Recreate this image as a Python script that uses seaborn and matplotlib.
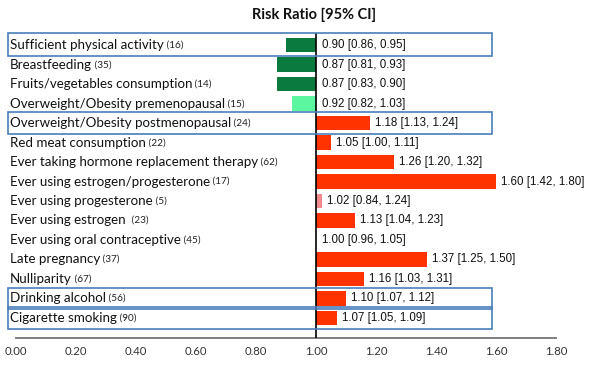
import numpy as np
import pandas as pd
import matplotlib
matplotlib.use("Agg")
import matplotlib.pyplot as plt
from matplotlib.patches import Rectangle
import seaborn as sns

# ---------------- data ----------------
factors = [
    "Sufficient physical activity",
    "Breastfeeding",
    "Fruits/vegetables consumption",
    "Overweight/Obesity premenopausal",
    "Overweight/Obesity postmenopausal",
    "Red meat consumption",
    "Ever taking hormone replacement therapy",
    "Ever using estrogen/progesterone",
    "Ever using progesterone",
    "Ever using estrogen ",
    "Ever using oral contraceptive",
    "Late pregnancy",
    "Nulliparity",
    "Drinking alcohol",
    "Cigarette smoking",
]
n_studies = [16, 35, 14, 15, 24, 22, 62, 17, 5, 23, 45, 37, 67, 56, 90]
risk_ratio = [0.90, 0.87, 0.87, 0.92, 1.18, 1.05, 1.26, 1.60, 1.02, 1.13, 1.00, 1.37, 1.16, 1.10, 1.07]
ci_low = [0.86, 0.81, 0.83, 0.82, 1.13, 1.00, 1.20, 1.42, 0.84, 1.04, 0.96, 1.25, 1.03, 1.07, 1.05]
ci_high = [0.95, 0.93, 0.90, 1.03, 1.24, 1.11, 1.32, 1.80, 1.24, 1.23, 1.05, 1.50, 1.31, 1.12, 1.09]
bar_colors = ["#0b7a3e", "#0b7a3e", "#0b7a3e", "#5cf5a0", "#ff3300", "#ff3300", "#ff3300",
              "#ff3300", "#f08a8c", "#ff3300", "#ff3300", "#ff3300", "#ff3300", "#ff3300", "#ff3300"]
boxed = ["Sufficient physical activity", "Overweight/Obesity postmenopausal",
         "Drinking alcohol", "Cigarette smoking"]
x_ticks = [0.0, 0.2, 0.4, 0.6, 0.8, 1.0, 1.2, 1.4, 1.6, 1.8]
title = "Risk Ratio [95% CI]"
reference = 1.0

# ---------------- style ----------------
sns.set_style("white")
plt.rcParams["font.family"] = ["Lato", "DejaVu Sans"]

df = pd.DataFrame({
    "factor": factors,
    "diff": np.array(risk_ratio) - reference,
})

fig = plt.figure(figsize=(5.89, 3.67), dpi=100)
ax = fig.add_axes([16 / 589, 29 / 367, 540 / 589, 305 / 367])

sns.barplot(data=df, y="factor", x="diff", hue="factor", palette=bar_colors,
            saturation=1, errorbar=None, width=0.74, legend=False, orient="h",
            left=reference, linewidth=0, ax=ax)

ax.set_xlim(0, 1.8)
ax.set_ylim(15.03, -0.62)
ax.set_xlabel("")
ax.set_ylabel("")
ax.set_xticks(x_ticks)
ax.set_xticklabels([f"{t:.2f}" for t in x_ticks], fontsize=8.2, color="#333333")
ax.tick_params(axis="x", length=0, pad=6)
ax.tick_params(axis="y", left=False, labelleft=False)
for s in ["top", "right", "left"]:
    ax.spines[s].set_visible(False)
ax.spines["bottom"].set_color("#7f7f7f")
ax.spines["bottom"].set_linewidth(1.4)

ax.axvline(reference, color="black", lw=1.2, zorder=5)

# category labels with study counts
for i, (name, n) in enumerate(zip(factors, n_studies)):
    t = ax.text(-0.02, i, name, ha="left", va="center", fontsize=9.6,
                color="#111111", clip_on=False)
    ax.annotate(f" ({n})", xy=(1, 0.12), xycoords=t, va="bottom", ha="left",
                fontsize=7.2, color="#222222", annotation_clip=False)

# value labels
for i, (rr, lo, hi) in enumerate(zip(risk_ratio, ci_low, ci_high)):
    xpos = max(rr, reference)
    off = 3.5 if rr > reference else 4
    ax.annotate(f"{rr:.2f} [{lo:.2f}, {hi:.2f}]", xy=(xpos, i), xytext=(off, 0),
                textcoords="offset points", va="center", ha="left",
                fontsize=8.3, family=["Liberation Sans", "DejaVu Sans"],
                color="#111111", annotation_clip=False)

# highlight boxes
for name in boxed:
    i = factors.index(name)
    top = -0.62 if i == 0 else i - 0.55
    ax.add_patch(Rectangle((-0.027, top), 1.614, (i + 0.55) - top,
                           fill=False, edgecolor="#4a7ebb", lw=1.2,
                           clip_on=False, zorder=6))

fig.text(314 / 589, 1 - 15 / 367, title, ha="center", va="center",
         fontsize=10.5, fontweight="bold", color="#111111")

fig.savefig("out.png", dpi=100)
